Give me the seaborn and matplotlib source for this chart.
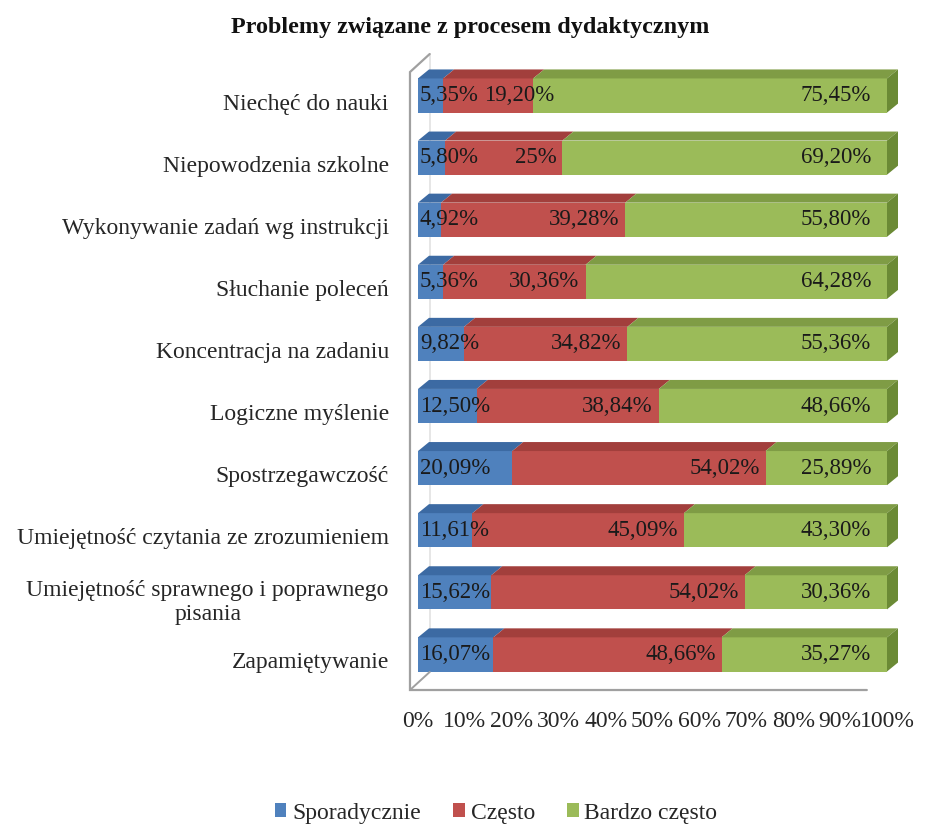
import matplotlib
matplotlib.use("Agg")
import matplotlib.pyplot as plt
from matplotlib.patches import Polygon, Patch
from matplotlib.transforms import ScaledTranslation
import numpy as np
import seaborn as sns

# ---- data -------------------------------------------------------------
categories = [
    "Niechęć do nauki",
    "Niepowodzenia szkolne",
    "Wykonywanie zadań wg instrukcji",
    "Słuchanie poleceń",
    "Koncentracja na zadaniu",
    "Logiczne myślenie",
    "Spostrzegawczość",
    "Umiejętność czytania ze zrozumieniem",
    "Umiejętność sprawnego i poprawnego\npisania",
    "Zapamiętywanie",
]
sporadycznie = [5.35, 5.80, 4.92, 5.36, 9.82, 12.50, 20.09, 11.61, 15.62, 16.07]
czesto = [19.20, 25.00, 39.28, 30.36, 34.82, 38.84, 54.02, 45.09, 54.02, 48.66]
bardzo_czesto = [75.45, 69.20, 55.80, 64.28, 55.36, 48.66, 25.89, 43.30, 30.36, 35.27]
series_names = ["Sporadycznie", "Często", "Bardzo często"]
x_ticks = [0, 10, 20, 30, 40, 50, 60, 70, 80, 90, 100]
title = "Problemy związane z procesem dydaktycznym"

# ---- style ------------------------------------------------------------
sns.set_theme(style="white")
plt.rcParams["font.family"] = ["Liberation Serif", "DejaVu Serif"]

front = ["#4f81bd", "#c0504d", "#9bbb59"]
top = ["#3c6aa3", "#a23f3c", "#7f9c45"]
side_green = "#6b8a35"
wall_col = "#a0a0a0"

W, H = 934, 825
fig = plt.figure(figsize=(W / 100, H / 100), dpi=100)
ax = fig.add_axes([418 / W, (H - 692) / H, 469 / W, 642 / H])

series = [np.array(sporadycznie), np.array(czesto), np.array(bardzo_czesto)]
cums = np.cumsum(series, axis=0)
bar_h = 0.55

# stacked bars: draw the longest cumulative total first, then overlay
for k in (2, 1, 0):
    sns.barplot(x=cums[k], y=categories, order=categories, orient="h",
                color=front[k], saturation=1, width=bar_h, linewidth=0,
                errorbar=None, ax=ax)

ax.set_xlim(0, 100)
ax.set_ylim(9.605, -0.733)
for s in ax.spines.values():
    s.set_visible(False)

# depth of the 3-D effect (11 px right, 9 px up)
dx = 11 / 4.69
dy = 9 / 62.1

n = len(categories)
for i in range(n):
    yt = i - bar_h / 2
    yb = i + bar_h / 2
    left = 0.0
    for k in range(3):
        right = cums[k][i]
        ax.add_patch(Polygon([(left, yt), (right, yt), (right + dx, yt - dy),
                              (left + dx, yt - dy)], closed=True,
                             facecolor=top[k], edgecolor="none", clip_on=False))
        left = right
    tot = cums[2][i]
    ax.add_patch(Polygon([(tot, yt), (tot + dx, yt - dy), (tot + dx, yb - dy),
                          (tot, yb)], closed=True, facecolor=side_green,
                         edgecolor="none", clip_on=False))

# side wall and floor outline
wx0, wx1 = -1.71, 95.7
wy0, wy1 = -0.378, 9.573
wdx, wdy = 4.2, 0.29
ax.plot([wx0 + wdx, wx0 + wdx], [wy0 - wdy, wy1 - wdy], color="#e2e2e2",
        lw=1.2, clip_on=False, zorder=0)
ax.plot([wx0 + wdx, wx0, wx0, wx1], [wy0 - wdy, wy0, wy1, wy1],
        color=wall_col, lw=1.6, clip_on=False, solid_joinstyle="miter")
ax.plot([wx0, wx0 + wdx], [wy1, wy1 - wdy], color=wall_col, lw=1.4, clip_on=False)

# ticks
ax.set_xticks(x_ticks)
ax.set_xticklabels([f"{t}%" for t in x_ticks], fontsize=17)
ax.tick_params(axis="x", length=0, pad=14)
ax.tick_params(axis="y", length=0, pad=21)
ax.set_yticks(range(n))
ax.set_yticklabels(categories, fontsize=17, multialignment="center")
ax.set_xlabel("")
ax.set_ylabel("")
shift = ScaledTranslation(0, -6 / 100, fig.dpi_scale_trans)
for lab in ax.get_yticklabels():
    lab.set_transform(lab.get_transform() + shift)


def fmt(v):
    if float(v).is_integer():
        return f"{int(v)}%"
    return f"{v:.2f}".replace(".", ",") + "%"


# value labels
blue_txt, red_txt = [], []
for i in range(n):
    b = ax.annotate(fmt(sporadycznie[i]), xy=(0, i), xytext=(2, 0),
                    textcoords="offset pixels", ha="left", va="center",
                    fontsize=16.5, color="#1a1a1a")
    r = ax.annotate(fmt(czesto[i]), xy=(cums[1][i], i), xytext=(-6, 0),
                    textcoords="offset pixels", ha="right", va="center",
                    fontsize=16.5, color="#1a1a1a")
    ax.annotate(fmt(bardzo_czesto[i]), xy=(cums[2][i], i), xytext=(-16, 0),
                textcoords="offset pixels", ha="right", va="center",
                fontsize=16.5, color="#1a1a1a")
    blue_txt.append(b)
    red_txt.append(r)

fig.canvas.draw()
rend = fig.canvas.get_renderer()
for b, r in zip(blue_txt, red_txt):
    bb = b.get_window_extent(rend)
    rb = r.get_window_extent(rend)
    need = bb.x1 + 5 - rb.x0
    if need > 0:
        ox, oy = r.xyann
        r.xyann = (ox + need, oy)

fig.text(470 / W, 1 - 28 / H, title, ha="center", va="center",
         fontsize=17.4, fontweight="bold", color="#111111")

handles = [Patch(facecolor=c, edgecolor="none") for c in front]
fig.legend(handles, series_names, loc="center", bbox_to_anchor=(496 / W, 1 - 813 / H),
           ncol=3, frameon=False, fontsize=17, handlelength=0.5, handleheight=0.5,
           handletextpad=0.25, columnspacing=1.35)

fig.savefig("out.png", dpi=100, facecolor="white")
